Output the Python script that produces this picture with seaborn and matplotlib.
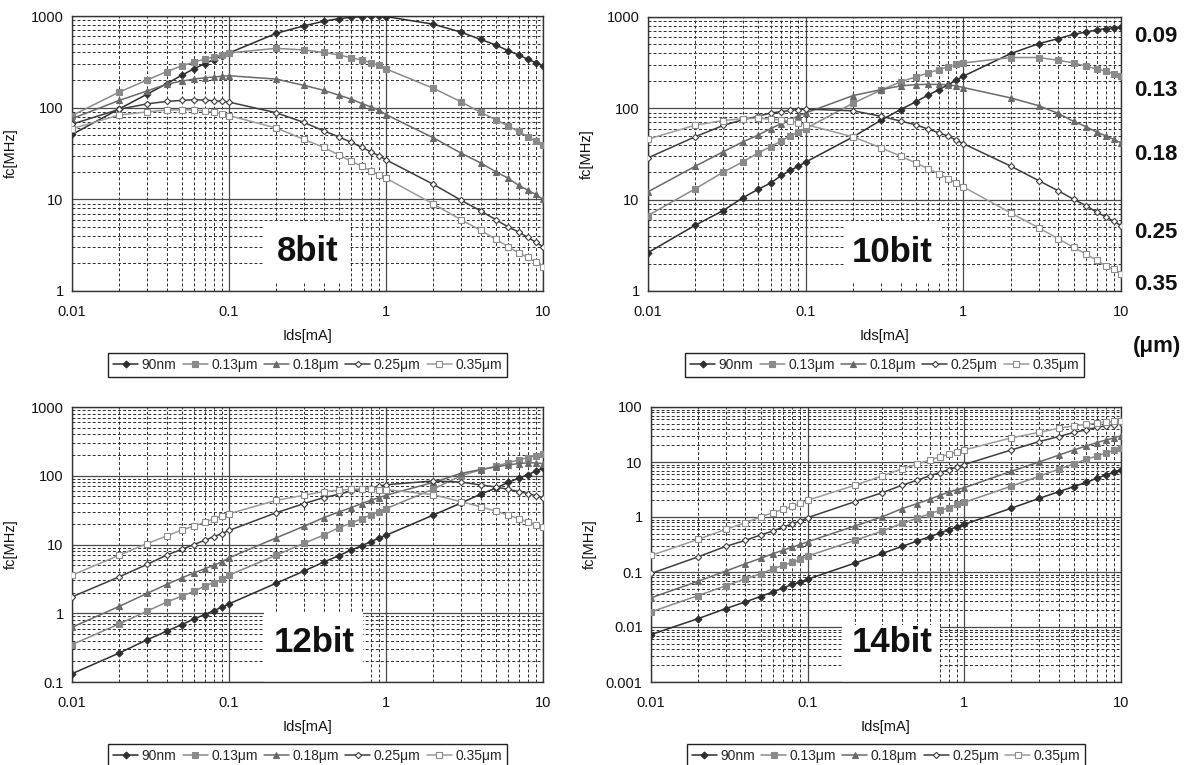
import numpy as np
import pandas as pd
import matplotlib
matplotlib.use("Agg")
import matplotlib.pyplot as plt
import seaborn as sns
from matplotlib.ticker import LogLocator, NullFormatter, FixedLocator, FixedFormatter
from matplotlib.patches import Rectangle

# ---------------- data ----------------
ids = [0.01, 0.02, 0.03, 0.04, 0.05, 0.06, 0.07, 0.08, 0.09,
       0.1, 0.2, 0.3, 0.4, 0.5, 0.6, 0.7, 0.8, 0.9,
       1, 2, 3, 4, 5, 6, 7, 8, 9, 10]

series_names = ["90nm", "0.13μm", "0.18μm", "0.25μm", "0.35μm"]

# 8bit
b8_90 = [51, 97, 140, 182, 226, 266, 302, 335, 368, 395, 647, 780, 876, 935, 965, 985, 995, 995, 985, 814, 667, 556, 483, 418, 376, 337, 310, 285]
b8_13 = [82, 148, 200, 247, 285, 315, 338, 358, 378, 395, 444, 426, 401, 376, 351, 331, 310, 290, 265, 163, 116, 89, 74, 63, 55, 48, 43, 39]
b8_18 = [76, 120, 152, 180, 195, 205, 212, 216, 220, 223, 205, 175, 155, 137, 124, 111, 102, 94, 84, 47, 32, 25, 20, 17, 14.2, 12.6, 11.3, 10]
b8_25 = [66, 96, 110, 117, 120, 122, 121, 119, 117, 115, 88, 69, 56, 48, 42, 37, 33, 30, 27, 14.6, 9.8, 7.5, 6.0, 5.0, 4.4, 3.85, 3.4, 3.05]
b8_35 = [59, 83, 90, 94, 95, 94, 92, 89, 86, 82, 60, 45, 37, 30.5, 26, 23, 20.5, 18.4, 17, 8.9, 6.0, 4.6, 3.66, 3.05, 2.6, 2.33, 2.05, 1.84]

# 10bit
b10_90 = [2.63, 5.27, 7.6, 10.5, 13.0, 15.2, 18.4, 21.0, 23.2, 25.8, 48.7, 74, 97, 118, 140, 160, 181, 203, 225, 398, 510, 580, 646, 685, 721, 746, 765, 778]
b10_13 = [6.7, 13.2, 20, 26, 32.5, 38, 44, 50, 55, 60, 114, 158, 195, 221, 244, 266, 284, 302, 314, 360, 360, 336, 314, 289, 270, 255, 240, 225]
b10_18 = [12.2, 23.3, 33.5, 43, 51, 60, 68, 75, 83, 89, 138, 160, 176, 182, 183, 183, 181, 176, 169, 130, 107, 88, 72, 63, 55, 50, 45.7, 41.9]
b10_25 = [28.7, 49, 65, 75, 82, 89, 92, 95, 97, 98, 94, 82, 72.5, 66, 59, 54, 49.5, 45, 41, 23.3, 16.2, 12.5, 10.1, 8.6, 7.3, 6.5, 5.8, 5.2]
b10_35 = [46, 65.5, 73.5, 77, 78, 76, 75, 72, 69.5, 66.5, 48.7, 37, 30, 25.2, 21.8, 19.2, 17, 15.2, 13.8, 7.15, 4.93, 3.73, 3.0, 2.54, 2.18, 1.89, 1.73, 1.53]

# 12bit
b12_90 = [0.132, 0.264, 0.41, 0.547, 0.684, 0.826, 0.957, 1.09, 1.22, 1.37, 2.74, 4.1, 5.54, 6.86, 8.3, 9.6, 11.0, 12.3, 13.6, 26.8, 40, 54, 66, 80, 92, 104, 116, 128]
b12_13 = [0.35, 0.70, 1.07, 1.45, 1.77, 2.09, 2.48, 2.8, 3.1, 3.58, 7.0, 10.4, 13.7, 17.5, 20.5, 23.7, 26.8, 30, 33.2, 64, 100, 122, 137, 155, 170, 184, 195, 206]
b12_18 = [0.625, 1.26, 1.94, 2.62, 3.27, 3.87, 4.43, 5.0, 5.6, 6.4, 12.5, 18.4, 24.5, 29.7, 34.4, 39.3, 44, 48, 52, 80, 108, 123, 134, 144, 150, 154, 154, 150]
b12_25 = [1.73, 3.39, 5.12, 7.0, 8.5, 10, 11.5, 13, 14.4, 16, 29, 39.3, 48, 53.8, 60, 63.5, 67, 70, 74, 84, 81, 73.5, 68.7, 63.5, 58.8, 55, 51.4, 48]
b12_35 = [3.58, 7.0, 10.3, 13.3, 16.2, 18.6, 21, 23.7, 26, 28, 44, 52, 58.8, 61.5, 63.5, 64.3, 64, 63, 63, 53, 42, 35.5, 30.5, 26.8, 23.8, 21.3, 19.5, 17.8]

# 14bit
b14_90 = [0.0073, 0.0142, 0.0216, 0.0286, 0.0358, 0.0435, 0.0515, 0.0593, 0.0663, 0.074, 0.145, 0.218, 0.292, 0.365, 0.438, 0.511, 0.587, 0.667, 0.735, 1.45, 2.18, 2.88, 3.58, 4.25, 5.05, 5.8, 6.5, 7.25]
b14_13 = [0.0188, 0.0373, 0.056, 0.075, 0.0927, 0.114, 0.133, 0.15, 0.169, 0.195, 0.376, 0.556, 0.767, 0.946, 1.15, 1.32, 1.48, 1.70, 1.85, 3.65, 5.5, 7.4, 9.2, 11.2, 12.8, 14.6, 16.2, 17.7]
b14_18 = [0.0339, 0.068, 0.104, 0.141, 0.177, 0.215, 0.25, 0.284, 0.318, 0.355, 0.685, 1.01, 1.42, 1.75, 2.1, 2.48, 2.86, 3.15, 3.42, 6.8, 10, 13.3, 16.6, 19.5, 22.5, 25, 27.5, 29.8]
b14_25 = [0.094, 0.189, 0.292, 0.376, 0.47, 0.556, 0.657, 0.756, 0.846, 0.972, 1.9, 2.77, 3.78, 4.66, 5.59, 6.43, 7.29, 8.15, 9.0, 16.6, 23.5, 29, 34.5, 38.5, 42.5, 45.5, 48, 50.5]
b14_35 = [0.2, 0.392, 0.596, 0.788, 1.0, 1.2, 1.38, 1.56, 1.78, 2.01, 3.78, 5.59, 7.5, 9.12, 10.9, 12.4, 13.9, 15.3, 16.6, 27.5, 34.5, 41, 45.5, 48.5, 51, 53, 54.5, 56]

panel_titles = ["8bit", "10bit", "12bit", "14bit"]
x_ticks = [0.01, 0.1, 1, 10]
x_ticklabels = ["0.01", "0.1", "1", "10"]
y_ticks_8 = [1, 10, 100, 1000]
y_ticklabels_8 = ["1", "10", "100", "1000"]
y_ticks_12 = [0.1, 1, 10, 100, 1000]
y_ticklabels_12 = ["0.1", "1", "10", "100", "1000"]
y_ticks_14 = [0.001, 0.01, 0.1, 1, 10, 100]
y_ticklabels_14 = ["0.001", "0.01", "0.1", "1", "10", "100"]
node_labels = ["0.09", "0.13", "0.18", "0.25", "0.35"]
node_unit = "(μm)"
x_label = "Ids[mA]"
y_label = "fc[MHz]"

# ---------------- style ----------------
sns.set_theme(style="white")
plt.rcParams["font.family"] = ["Liberation Sans", "DejaVu Sans"]

styles = [
    dict(color="#2e2e2e", marker="D", markersize=3.5, markerfacecolor="#2e2e2e", markeredgecolor="#2e2e2e"),
    dict(color="#8a8a8a", marker="s", markersize=4.6, markerfacecolor="#8a8a8a", markeredgecolor="#8a8a8a"),
    dict(color="#6a6a6a", marker="^", markersize=4.8, markerfacecolor="#6a6a6a", markeredgecolor="#6a6a6a"),
    dict(color="#3e3e3e", marker="D", markersize=3.2, markerfacecolor="white", markeredgecolor="#3e3e3e"),
    dict(color="#9c9c9c", marker="s", markersize=4.6, markerfacecolor="white", markeredgecolor="#8c8c8c"),
]

fig = plt.figure(figsize=(11.89, 7.65), dpi=100)

panels = [
    dict(rect=[72/1189, 1-291/765, 471/1189, 275/765],
         data=[b8_90, b8_13, b8_18, b8_25, b8_35], yt=y_ticks_8, ytl=y_ticklabels_8,
         box=(0.408, 0.029, 0.182, 0.222), txt=(0.501, 0.142)),
    dict(rect=[648/1189, 1-291/765, 473/1189, 274/765],
         data=[b10_90, b10_13, b10_18, b10_25, b10_35], yt=y_ticks_8, ytl=y_ticklabels_8,
         box=(0.414, 0.029, 0.208, 0.222), txt=(0.516, 0.142)),
    dict(rect=[72/1189, 1-682/765, 471/1189, 275/765],
         data=[b12_90, b12_13, b12_18, b12_25, b12_35], yt=y_ticks_12, ytl=y_ticklabels_12,
         box=(0.408, 0.0, 0.210, 0.255), txt=(0.514, 0.145)),
    dict(rect=[651/1189, 1-682/765, 470/1189, 275/765],
         data=[b14_90, b14_13, b14_18, b14_25, b14_35], yt=y_ticks_14, ytl=y_ticklabels_14,
         box=(0.406, 0.0, 0.209, 0.207), txt=(0.513, 0.145)),
]

for p, title in zip(panels, panel_titles):
    ax = fig.add_axes(p["rect"])
    ax.set_xscale("log")
    ax.set_yscale("log")
    for name, vals, st in zip(series_names, p["data"], styles):
        df = pd.DataFrame({"Ids": ids, "fc": vals})
        sns.lineplot(data=df, x="Ids", y="fc", ax=ax, label=name,
                     linewidth=1.1, markeredgewidth=0.8, zorder=3, **st)
    ax.set_xlim(0.01, 10)
    ax.set_ylim(p["yt"][0], p["yt"][-1])
    ax.xaxis.set_major_locator(FixedLocator(x_ticks))
    ax.xaxis.set_major_formatter(FixedFormatter(x_ticklabels))
    ax.yaxis.set_major_locator(FixedLocator(p["yt"]))
    ax.yaxis.set_major_formatter(FixedFormatter(p["ytl"]))
    ax.xaxis.set_minor_locator(LogLocator(base=10, subs=np.arange(2, 10), numticks=30))
    ax.yaxis.set_minor_locator(LogLocator(base=10, subs=np.arange(2, 10), numticks=30))
    ax.xaxis.set_minor_formatter(NullFormatter())
    ax.yaxis.set_minor_formatter(NullFormatter())
    ax.tick_params(which="both", length=0, labelsize=10.5, colors="#111111")
    ax.tick_params(axis="x", pad=10)
    ax.tick_params(axis="y", pad=6)
    ax.set_axisbelow(True)
    ax.grid(which="major", color="#4a4a4a", linestyle="-", linewidth=0.9)
    ax.grid(which="minor", color="#2a2a2a", linestyle=(0, (3, 2.2)), linewidth=0.7)
    for s in ax.spines.values():
        s.set_color("#333333")
        s.set_linewidth(1.0)
    ax.set_xlabel(x_label, fontsize=10.5, labelpad=7, color="#111111")
    ax.set_ylabel(y_label, fontsize=10.5, color="#111111")
    ax.yaxis.set_label_coords(-0.115, 0.5)
    bx = p["box"]
    ax.add_patch(Rectangle((bx[0], bx[1]), bx[2], bx[3], transform=ax.transAxes,
                           facecolor="white", edgecolor="none", zorder=1.5))
    ax.text(p["txt"][0], p["txt"][1], title, transform=ax.transAxes, fontsize=25,
            fontweight="bold", ha="center", va="center", color="#111111", zorder=4)
    leg = ax.legend(loc="center", bbox_to_anchor=(0.5, -0.27), ncol=5, fontsize=10,
                    frameon=True, fancybox=False, framealpha=1, edgecolor="#222222",
                    handlelength=1.8, handletextpad=0.25, columnspacing=0.45,
                    borderpad=0.35, borderaxespad=0)
    leg.get_frame().set_linewidth(1.0)

node_y = [37, 90, 155, 232, 285]
for lab, yy in zip(node_labels, node_y):
    fig.text(1134/1189, 1 - yy/765, lab, fontsize=16, fontweight="bold",
             ha="left", va="center", color="#111111")
fig.text(1157/1189, 1 - 347/765, node_unit, fontsize=16, fontweight="bold",
         ha="center", va="center", color="#111111")

fig.savefig("out.png", dpi=100)
